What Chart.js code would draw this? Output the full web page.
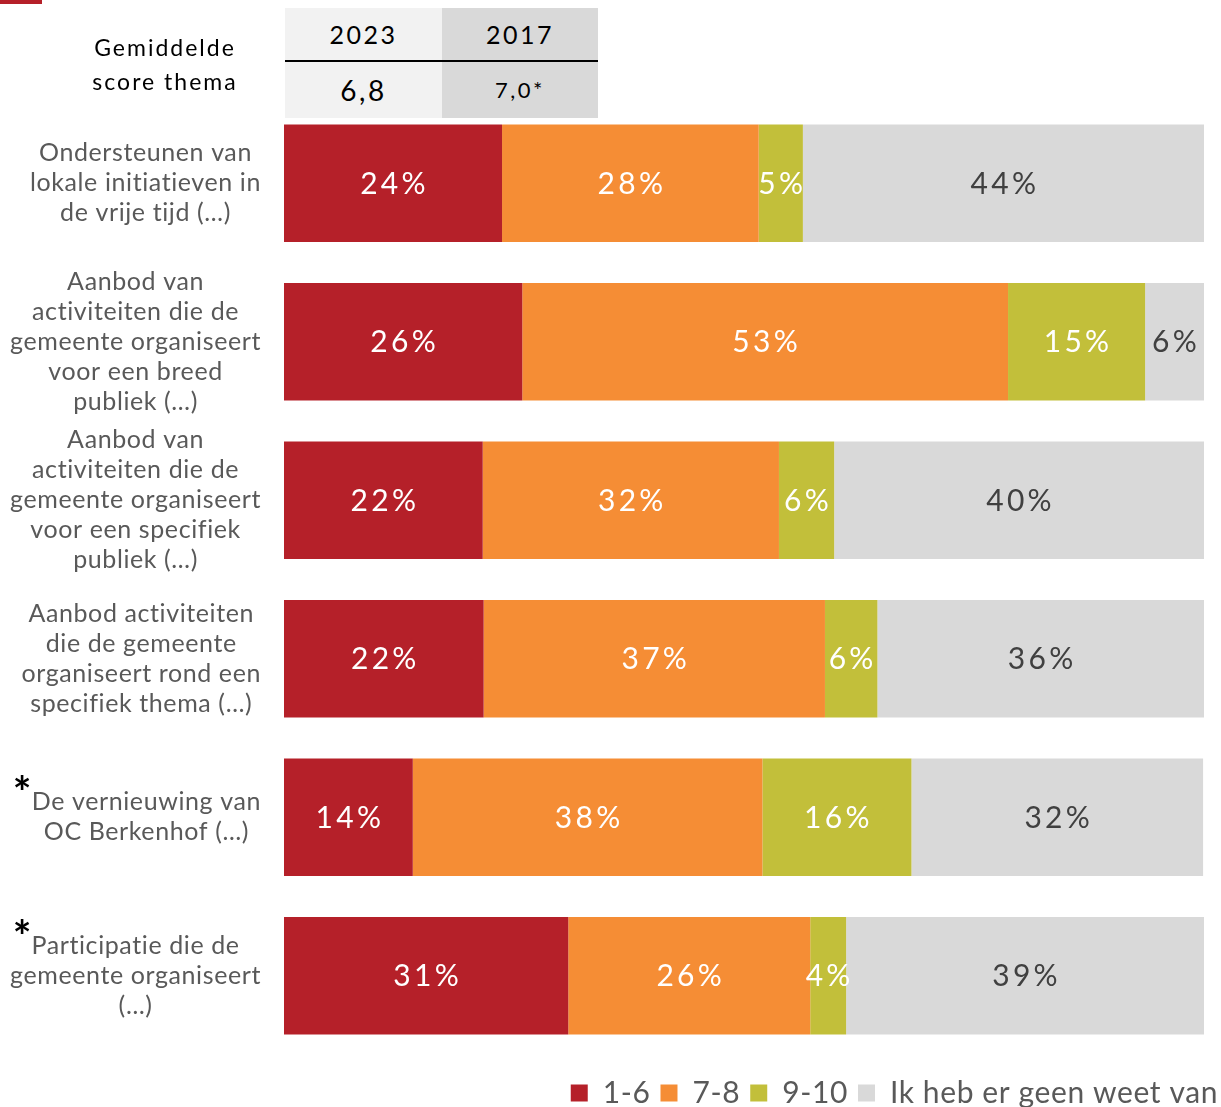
<!DOCTYPE html>
<html>
<head>
<meta charset="utf-8">
<script src="https://cdn.jsdelivr.net/npm/chart.js@4.4.1/dist/chart.umd.min.js"></script>
<style>
  html, body { margin: 0; padding: 0; background: #fff; }
  #wrap { position: relative; width: 1221px; height: 1107px; }
  #chartCanvas { position: absolute; left: 0; top: 0; }
  .mark { position: absolute; left: 0; top: 0; width: 42px; height: 4px; background: #b52029; }
  .head { position: absolute; font-family: Lato, sans-serif; color: #000; text-align: center; letter-spacing: 2px; }
  .cell { position: absolute; font-family: Lato, sans-serif; color: #000; text-align: center; letter-spacing: 2.5px; }
</style>
</head>
<body>
<div id="wrap">
  <canvas id="chartCanvas" width="1221" height="1107"></canvas>
  <div class="mark"></div>
  <div id="header"></div>
</div>
<script>
const categories = [
  ['Ondersteunen van', 'lokale initiatieven in', 'de vrije tijd (…)'],
  ['Aanbod van', 'activiteiten die de', 'gemeente organiseert', 'voor een breed', 'publiek (…)'],
  ['Aanbod van', 'activiteiten die de', 'gemeente organiseert', 'voor een specifiek', 'publiek (…)'],
  ['Aanbod activiteiten', 'die de gemeente', 'organiseert rond een', 'specifiek thema (…)'],
  ['De vernieuwing van', 'OC Berkenhof (…)'],
  ['Participatie die de', 'gemeente organiseert', '(…)']
];
const starred = [false, false, false, false, true, true];

const seriesNames = ['1-6', '7-8', '9-10', 'Ik heb er geen weet van'];
const score16 = [23.7, 25.9, 21.6, 21.7, 14.0, 30.9];
const score78 = [27.9, 52.8, 32.2, 37.1, 38.0, 26.3];
const score910 = [4.8, 14.9, 6.0, 5.7, 16.2, 3.9];
const noIdea = [43.6, 6.4, 40.2, 35.5, 31.7, 38.9];

const scoreYears = ['2023', '2017'];
const scoreValues = ['6,8', '7,0*'];

const colors = ['#b52029', '#f58d35', '#c2bf3a', '#d9d9d9'];
const labelColors = ['#ffffff', '#ffffff', '#ffffff', '#404040'];
const font = 'Lato, sans-serif';

// header table
const header = document.getElementById('header');
header.innerHTML =
  '<div class="head" style="left:40px;top:30px;width:250px;font-size:23px;line-height:34px;">Gemiddelde<br>score thema</div>' +
  '<div class="cell" style="left:285px;top:8px;width:157px;height:110px;background:#f2f2f2;"></div>' +
  '<div class="cell" style="left:442px;top:8px;width:156px;height:110px;background:#d9d9d9;"></div>' +
  '<div class="cell" style="left:285px;top:60px;width:313px;height:2px;background:#000;"></div>' +
  '<div class="cell" style="left:285px;top:17px;width:157px;font-size:25px;line-height:34px;">' + scoreYears[0] + '</div>' +
  '<div class="cell" style="left:442px;top:17px;width:156px;font-size:25px;line-height:34px;">' + scoreYears[1] + '</div>' +
  '<div class="cell" style="left:285px;top:72px;width:157px;font-size:28px;line-height:36px;">' + scoreValues[0] + '</div>' +
  '<div class="cell" style="left:442px;top:74px;width:156px;font-size:22px;line-height:32px;">' + scoreValues[1] + '</div>';

// wider tracking for library text, like the original typeface
const tracking = {
  id: 'tracking',
  beforeUpdate(chart) { chart.ctx.letterSpacing = '0.6px'; },
  beforeDraw(chart) { chart.ctx.letterSpacing = '0.6px'; }
};

// legend keeps a fixed height so the plot reaches down to it
const legendHeight = {
  id: 'legendHeight',
  beforeLayout(chart) {
    const lg = chart.legend;
    if (lg && !lg._fixed) {
      const fit = lg.fit.bind(lg);
      lg.fit = function () { fit(); this.height = 52; };
      lg._fixed = true;
    }
  },
  afterLayout(chart) {
    const lg = chart.legend;
    lg.left += 24; lg.right += 24;
    lg.top += 13; lg.bottom += 13;
  }
};

// category labels: each block right-aligned, its lines centred
const catLabels = {
  id: 'catLabels',
  afterDraw(chart) {
    const ctx = chart.ctx;
    const y = chart.scales.y;
    ctx.save();
    ctx.font = '25px ' + font;
    ctx.letterSpacing = '0.6px';
    ctx.fillStyle = '#595959';
    ctx.textAlign = 'center';
    ctx.textBaseline = 'middle';
    categories.forEach((lines, i) => {
      const cy = y.getPixelForValue(i);
      const w = Math.max(...lines.map(l => ctx.measureText(l).width));
      const cx = 261 - w / 2;
      lines.forEach((l, k) => ctx.fillText(l, cx, cy + (k - (lines.length - 1) / 2) * 30));
      if (starred[i]) {
        ctx.save();
        ctx.font = 'bold 44px ' + font;
        ctx.letterSpacing = '0px';
        ctx.fillStyle = '#000';
        ctx.textBaseline = 'alphabetic';
        ctx.fillText('*', 22, cy - (lines.length - 1) / 2 * 30 + 6);
        ctx.restore();
      }
    });
    ctx.restore();
  }
};

const barLabels = {
  id: 'barLabels',
  afterDatasetsDraw(chart) {
    const ctx = chart.ctx;
    ctx.save();
    ctx.font = '30px ' + font;
    ctx.letterSpacing = '3.3px';
    ctx.textAlign = 'center';
    ctx.textBaseline = 'middle';
    chart.data.datasets.forEach((ds, i) => {
      chart.getDatasetMeta(i).data.forEach((bar, j) => {
        ctx.fillStyle = labelColors[i];
        ctx.fillText(Math.round(ds.data[j]) + '%', (bar.x + bar.base) / 2 + 1.5, bar.y + 1);
      });
    });
    ctx.restore();
  }
};

const sets = [score16, score78, score910, noIdea];

new Chart(document.getElementById('chartCanvas').getContext('2d'), {
  type: 'bar',
  data: {
    labels: categories,
    datasets: sets.map((d, i) => ({
      label: seriesNames[i],
      data: d,
      backgroundColor: colors[i],
      borderWidth: 0,
      barPercentage: 0.74,
      categoryPercentage: 1
    }))
  },
  options: {
    indexAxis: 'y',
    responsive: false,
    animation: false,
    layout: { padding: { top: 104, right: 17, left: 0, bottom: 0 } },
    scales: {
      x: {
        stacked: true,
        min: 0,
        max: 100,
        display: false
      },
      y: {
        stacked: true,
        border: { display: false },
        grid: { display: false, drawTicks: false },
        ticks: { display: false },
        afterFit(scale) { scale.width = 284; }
      }
    },
    plugins: {
      tooltip: { enabled: false },
      legend: {
        position: 'bottom',
        align: 'end',
        labels: {
          boxWidth: 17,
          boxHeight: 17,
          padding: 10,
          color: '#595959',
          font: { family: font, size: 30 }
        }
      }
    }
  },
  plugins: [tracking, legendHeight, catLabels, barLabels]
});
</script>
</body>
</html>
